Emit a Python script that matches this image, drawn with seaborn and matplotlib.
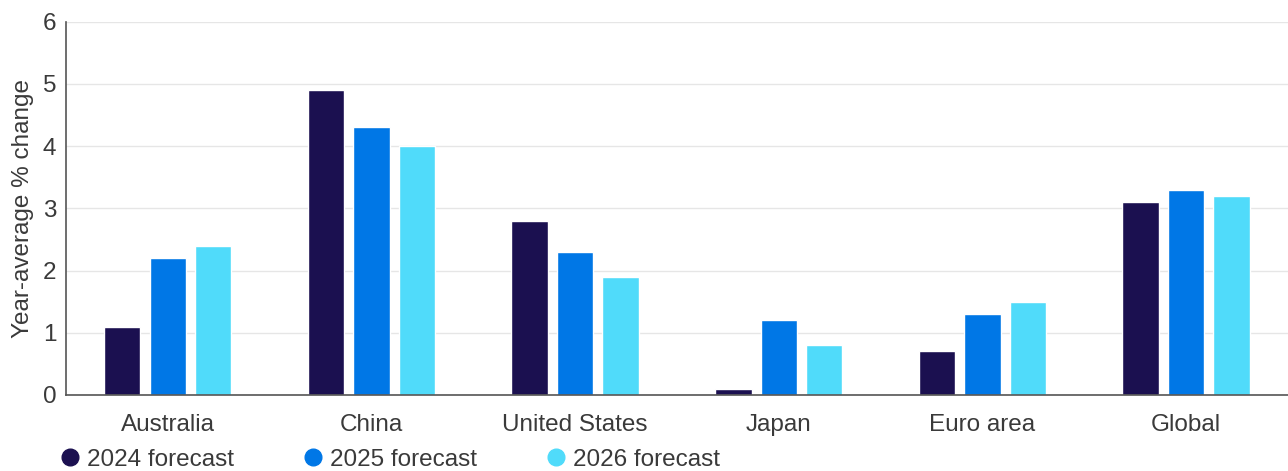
import pandas as pd
import seaborn as sns
import numpy as np
from matplotlib import pyplot as plt
from matplotlib.lines import Line2D

#---data
regions = ["Australia", "China", "United States", "Japan", "Euro area", "Global"]
series = ["2024 forecast", "2025 forecast", "2026 forecast"]
f2024 = [1.1, 4.9, 2.8, 0.1, 0.7, 3.1]
f2025 = [2.2, 4.3, 2.3, 1.2, 1.3, 3.3]
f2026 = [2.4, 4.0, 1.9, 0.8, 1.5, 3.2]
colors = ["#1b1050", "#0077e6", "#50dbfa"]

df = pd.DataFrame({"region": regions * 3,
                   "series": np.repeat(series, len(regions)),
                   "value": f2024 + f2025 + f2026})

sns.set_style("white")
plt.rcParams['font.family'] = ['Liberation Sans', 'DejaVu Sans']
txt = "#3a3a3a"
fs = 17.5

fig = plt.figure(figsize=(12.88, 4.71), dpi=100)
ax = fig.add_axes([0.0512, 0.1614, 0.9488, 0.7926])
sns.barplot(data=df, x="region", y="value", hue="series", palette=colors,
            width=0.67, gap=0.2, ax=ax, legend=False, saturation=1)

ax.set_ylim(0, 6)
ax.set_xlim(-0.5, len(regions) - 0.5)
ax.set_yticks(range(0, 7))
ax.yaxis.grid(True, color="#e6e6e6", linewidth=1)
ax.set_axisbelow(True)
for s in ["top", "right"]:
    ax.spines[s].set_visible(False)
for s in ["left", "bottom"]:
    ax.spines[s].set_color("#555555")
    ax.spines[s].set_linewidth(1.2)

# ticks sit between categories
ax.set_xticks(np.arange(-0.5, len(regions) - 0.4, 1), minor=True)
ax.tick_params(axis="x", which="major", length=0, pad=14, labelsize=fs, labelcolor=txt)
ax.tick_params(axis="x", which="minor", length=5, color="#555555", direction="out")
ax.tick_params(axis="y", length=4, color="#555555", labelsize=fs, labelcolor=txt, pad=3)
ax.set_xlabel("")
ax.set_ylabel("Year-average % change", fontsize=fs, color=txt, labelpad=6)

handles = [Line2D([], [], marker="o", linestyle="", markersize=12, color=c) for c in colors]
fig.legend(handles, series, loc="lower left", bbox_to_anchor=(0.028, -0.046), ncol=3,
           frameon=False, fontsize=fs, labelcolor=txt, handletextpad=0.2,
           columnspacing=2.75, handlelength=1.0)

fig.savefig("out.png", dpi=100)
